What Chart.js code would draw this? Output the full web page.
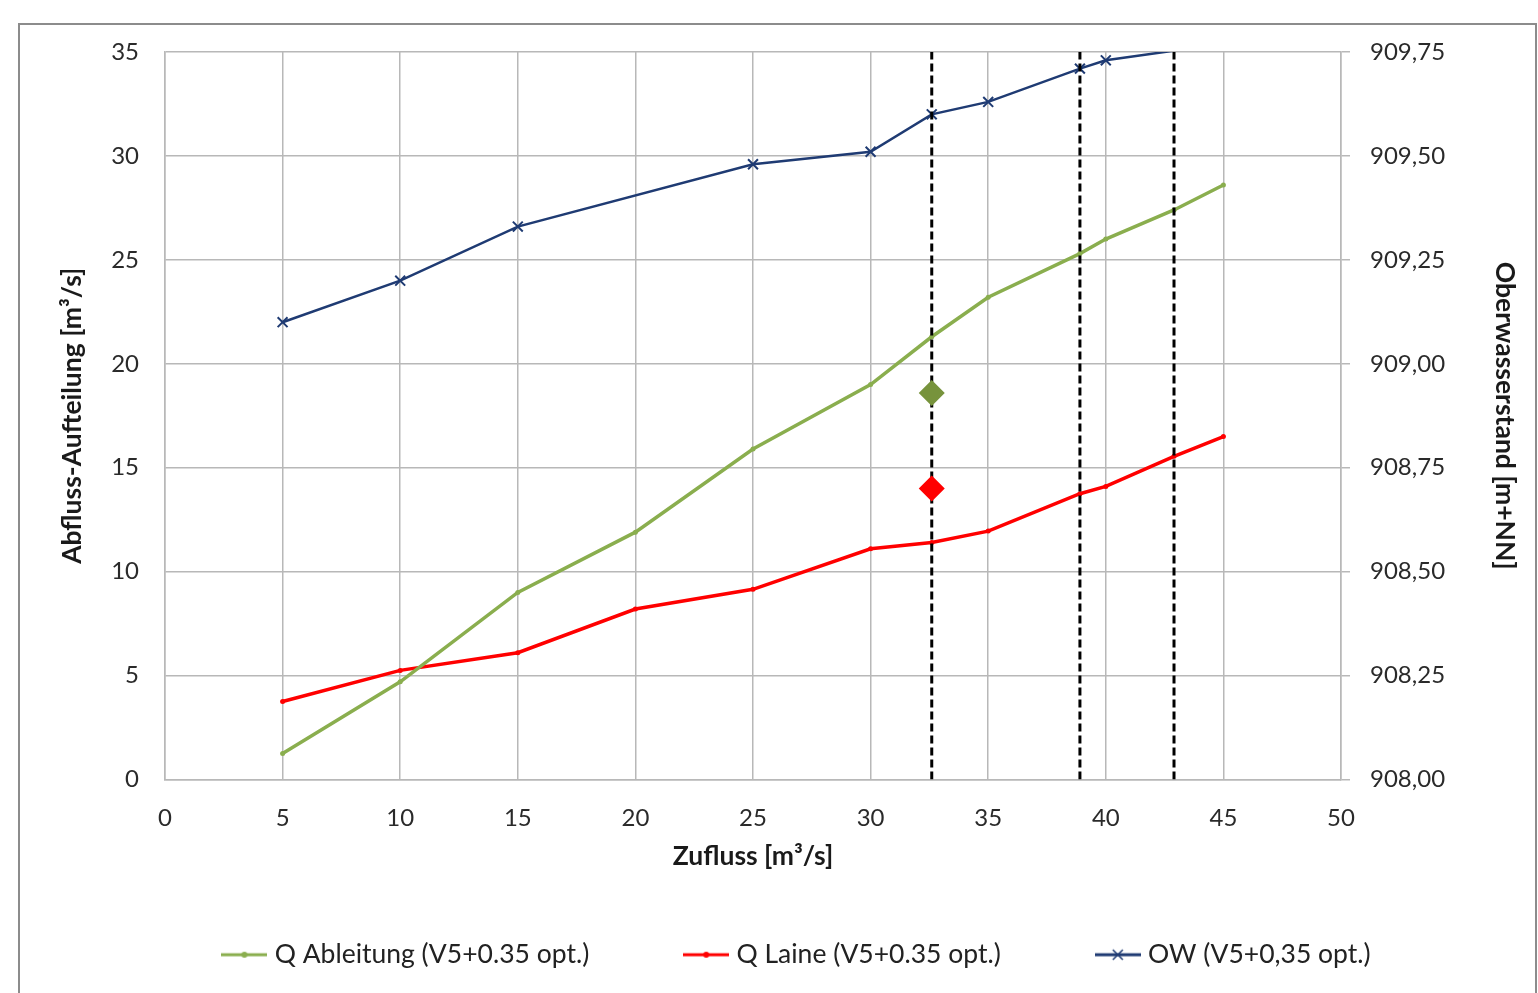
<!DOCTYPE html>
<html>
<head>
<meta charset="utf-8">
<title>Abfluss-Aufteilung</title>
<script src="https://cdn.jsdelivr.net/npm/chart.js@4.4.1/dist/chart.umd.min.js"></script>
<style>
  html, body { margin: 0; padding: 0; background: #fff; overflow: hidden; }
  #frame { position: absolute; left: 18px; top: 23px; width: 1515px; height: 1000px; border: 2px solid #8c8c8c; }
  #wrap { position: absolute; left: 0; top: 0; width: 1538px; height: 993px; }
</style>
</head>
<body>
<div id="frame"></div>
<div id="wrap"><canvas id="chart"></canvas></div>
<script>
// x values (Zufluss) shared by both Q series
const zufluss = [5, 10, 15, 20, 25, 30, 32.6, 35, 38.9, 40, 42.9, 45];
const qAbleitung = [1.25, 4.7, 9.0, 11.9, 15.9, 19.0, 21.3, 23.2, 25.3, 26.0, 27.4, 28.6];
const qLaine = [3.75, 5.25, 6.1, 8.2, 9.15, 11.1, 11.4, 11.95, 13.75, 14.1, 15.55, 16.5];

// Oberwasserstand (right axis)
const zuflussOW = [5, 10, 15, 25, 30, 32.6, 35, 38.9, 40, 45];
const oberwasser = [909.10, 909.20, 909.33, 909.48, 909.51, 909.60, 909.63, 909.71, 909.73, 909.77];

// single measured points at 32.6 m3/s
const messZufluss = 32.6;
const messAbleitung = 18.6;
const messLaine = 14.0;

// dashed marker lines
const markerLines = [32.6, 38.9, 42.9];

const labels = ['Q Ableitung (V5+0.35 opt.)', 'Q Laine (V5+0.35 opt.)', 'OW (V5+0,35 opt.)'];

const green = '#8AAE4E';
const red = '#FF0000';
const navy = '#1F3B73';
const gridGray = '#B8B8B8';
const fontName = 'Lato';

function pairs(xs, ys) {
  return xs.map((x, i) => ({ x: x, y: ys[i] }));
}

// small line+marker images for the legend
function legendIcon(color, marker) {
  const c = document.createElement('canvas');
  c.width = 46; c.height = 14;
  const g = c.getContext('2d');
  g.strokeStyle = color;
  g.lineWidth = 3;
  g.beginPath(); g.moveTo(0, 7); g.lineTo(46, 7); g.stroke();
  if (marker === 'dot') {
    g.fillStyle = color;
    g.beginPath(); g.arc(23, 7, 3, 0, Math.PI * 2); g.fill();
  } else {
    g.lineWidth = 1.5;
    g.beginPath();
    g.moveTo(18, 2); g.lineTo(28, 12);
    g.moveTo(28, 2); g.lineTo(18, 12);
    g.stroke();
  }
  return c;
}
const icons = [legendIcon(green, 'dot'), legendIcon(red, 'dot'), legendIcon(navy, 'x')];

const datasets = [
  {
    label: labels[0], data: pairs(zufluss, qAbleitung), yAxisID: 'y',
    borderColor: green, backgroundColor: green, borderWidth: 3.5,
    pointRadius: 2.5, pointBorderWidth: 0, order: 2
  },
  {
    label: labels[1], data: pairs(zufluss, qLaine), yAxisID: 'y',
    borderColor: red, backgroundColor: red, borderWidth: 3.5,
    pointRadius: 2.5, pointBorderWidth: 0, order: 2
  },
  {
    label: labels[2], data: pairs(zuflussOW, oberwasser), yAxisID: 'y1',
    borderColor: navy, backgroundColor: navy, borderWidth: 2.5,
    pointStyle: 'crossRot', pointRadius: 7, pointBorderWidth: 2, order: 2
  },
  {
    label: 'mess1', data: [{ x: messZufluss, y: messAbleitung }], yAxisID: 'y',
    showLine: false, pointStyle: 'rectRot', pointRadius: 13,
    backgroundColor: '#77933C', borderColor: '#77933C', pointBorderWidth: 0, order: 0
  },
  {
    label: 'mess2', data: [{ x: messZufluss, y: messLaine }], yAxisID: 'y',
    showLine: false, pointStyle: 'rectRot', pointRadius: 13,
    backgroundColor: red, borderColor: red, pointBorderWidth: 0, order: 0
  }
];

markerLines.forEach((xv, i) => {
  datasets.push({
    label: 'line' + i, data: [{ x: xv, y: 0 }, { x: xv, y: 35 }], yAxisID: 'y',
    borderColor: '#000', borderWidth: 3, borderDash: [8, 4],
    pointRadius: 0, order: 1
  });
});

const tickFont = { family: fontName, size: 24 };
const legendFont = { family: fontName, size: 26.5 };
const titleFont = { family: fontName, size: 26.5, weight: 'bold' };

new Chart(document.getElementById('chart'), {
  type: 'line',
  data: { datasets: datasets },
  options: {
    responsive: true,
    maintainAspectRatio: false,
    animation: false,
    events: [],
    layout: { padding: { left: 60, right: 0, top: 52, bottom: 15 } },
    plugins: {
      tooltip: { enabled: false },
      legend: {
        position: 'bottom',
        labels: {
          font: legendFont,
          color: '#222',
          padding: 100,
          usePointStyle: true,
          pointStyleWidth: 34,
          generateLabels: function (chart) {
            return labels.map((t, i) => ({
              text: t, pointStyle: icons[i], datasetIndex: i,
              fillStyle: 'transparent', strokeStyle: 'transparent', lineWidth: 0,
              fontColor: '#222', hidden: false
            }));
          }
        }
      }
    },
    scales: {
      x: {
        type: 'linear', min: 0, max: 50,
        ticks: { stepSize: 5, font: tickFont, color: '#2a2a2a', padding: 24 },
        grid: { color: gridGray, lineWidth: 1.5, drawTicks: false },
        border: { color: gridGray, width: 1.5 },
        title: { display: true, text: 'Zufluss [m³/s]', font: titleFont, color: '#1a1a1a', padding: { top: 0, bottom: -31 } },
        afterFit: function (s) { s.height = 62; }
      },
      y: {
        position: 'left', min: 0, max: 35,
        ticks: { stepSize: 5, font: tickFont, color: '#2a2a2a', padding: 26 },
        grid: { color: gridGray, lineWidth: 1.5, drawTicks: false },
        border: { color: gridGray, width: 1.5 },
        title: { display: true, text: 'Abfluss-Aufteilung [m³/s]', font: titleFont, color: '#1a1a1a', padding: { top: -3, bottom: 0 } },
        afterFit: function (s) { s.width = 105; }
      },
      y1: {
        position: 'right', min: 908, max: 909.75,
        ticks: {
          stepSize: 0.25, font: tickFont, color: '#2a2a2a', padding: 20,
          callback: function (v) { return v.toFixed(2).replace('.', ','); }
        },
        grid: { drawOnChartArea: false, drawTicks: true, tickLength: 9, color: gridGray, lineWidth: 1.5 },
        border: { color: gridGray, width: 1.5 },
        title: { display: true, text: 'Oberwasserstand [m+NN]', font: titleFont, color: '#1a1a1a', padding: { top: 18, bottom: 0 } },
        afterFit: function (s) { s.width = 197; }
      }
    }
  }
});
</script>
</body>
</html>
